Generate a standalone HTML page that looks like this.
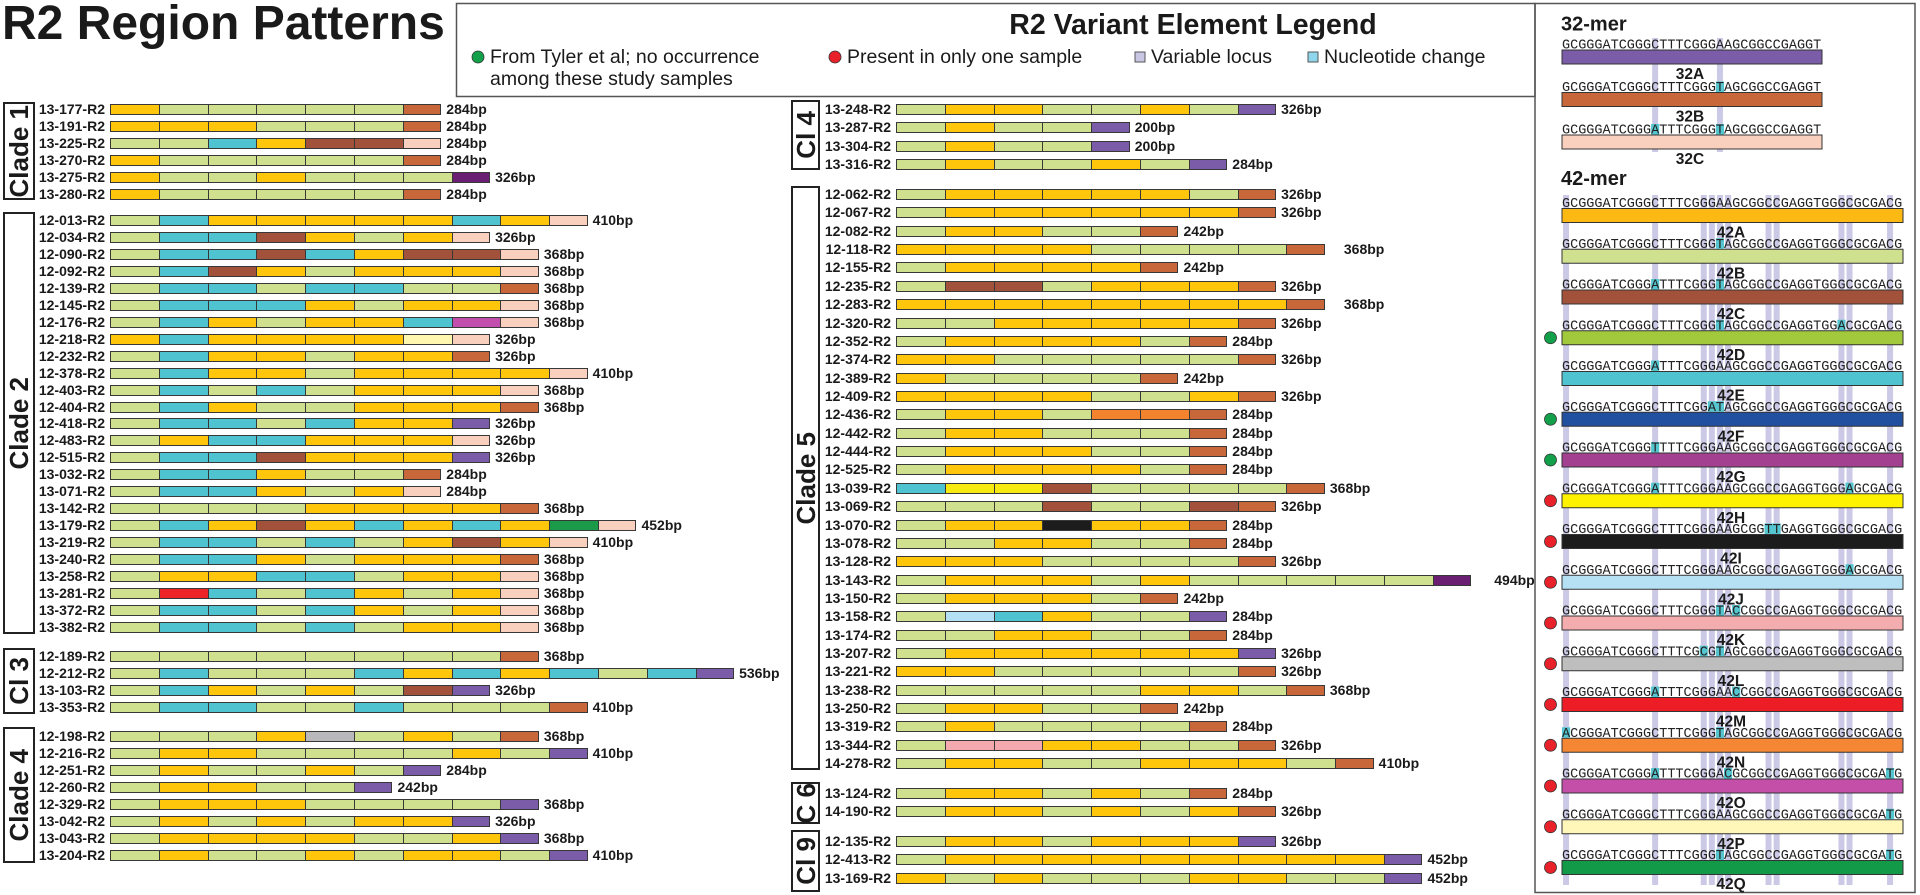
<!DOCTYPE html>
<html><head><meta charset="utf-8"><title>R2 Region Patterns</title>
<style>
*{margin:0;padding:0}
body{width:1920px;height:895px;position:relative;overflow:hidden;background:#fff;font-family:"Liberation Sans",Arial,sans-serif;color:#1a1a1a}
svg.bg{position:absolute;left:0;top:0}
.r{position:absolute;display:flex;align-items:center;height:11px}
.r b{position:absolute;right:100%;top:0;padding-right:5px;font-size:14px;line-height:11px;white-space:nowrap}
.r i{display:block;flex:none;width:49.8px;height:11px;box-sizing:border-box;border:1px solid #383838;margin-left:-1px}
.r b+i{margin-left:0}
.r i.e{width:38.5px}
.r s{text-decoration:none;font-weight:bold;font-size:14px;line-height:11px;margin-left:5px;white-space:nowrap}
.r s.f{margin-left:19px}
.r s.g{margin-left:23px}
.cb{position:absolute;box-sizing:border-box;border:2px solid #222;background:#fff;display:flex;align-items:center;justify-content:center}
.cb span{writing-mode:vertical-rl;transform:rotate(180deg);font-weight:bold;font-size:26px;line-height:1;white-space:nowrap}
.Y{background:#FFC60C}.G{background:#CFE08E}.C{background:#4FC3D0}.B{background:#A2513A}.O{background:#C8683A}.P{background:#F9CFBE}.V{background:#6A1F72}.L{background:#7B5CA9}.M{background:#C24FAE}.W{background:#FFF6B0}.D{background:#1B9A49}.R{background:#EC2327}.S{background:#B9B9BB}.K{background:#1C1C1C}.X{background:#B3E0F4}.Q{background:#F3A9AE}.N{background:#F4832D}.U{background:#F7EA10}
.sq{font-family:"Liberation Mono",monospace;font-size:13.5px;fill:#222}
.lb{font-family:"Liberation Sans",Arial,sans-serif;font-weight:bold;font-size:15.5px;text-anchor:middle;fill:#1a1a1a}
.st{fill:#CBC9E6}
.hl{fill:#55C6D0}
</style></head><body>

<svg class="bg" width="1920" height="895" viewBox="0 0 1920 895">
<text x="2" y="39" font-family="Liberation Sans, Arial, sans-serif" font-weight="bold" font-size="48" fill="#1a1a1a">R2 Region Patterns</text>
<rect x="456.5" y="3.5" width="1078.5" height="93" fill="none" stroke="#555" stroke-width="1.5"/>
<rect x="1535" y="3.5" width="380" height="889" fill="none" stroke="#555" stroke-width="1.5"/>
<g font-family="Liberation Sans, Arial, sans-serif" fill="#1a1a1a">
<text x="1193" y="34" text-anchor="middle" font-size="28.5" font-weight="bold">R2 Variant Element Legend</text>
<circle cx="478" cy="57" r="6" fill="#13A04B" stroke="#333" stroke-width=".8"/>
<text x="490" y="63" font-size="19.5">From Tyler et al; no occurrence</text>
<text x="490" y="85" font-size="19.5">among these study samples</text>
<circle cx="835" cy="57" r="6" fill="#E8212A" stroke="#333" stroke-width=".8"/>
<text x="847" y="63" font-size="19.5">Present in only one sample</text>
<rect x="1135" y="52" width="10" height="10" fill="#C9C6E3" stroke="#555"/>
<text x="1151" y="63" font-size="19.5">Variable locus</text>
<rect x="1308" y="52" width="10" height="10" fill="#8FD6EC" stroke="#555"/>
<text x="1324" y="63" font-size="19.5">Nucleotide change</text>
<text x="1561" y="30.5" font-size="20" font-weight="bold">32-mer</text>
<text x="1561" y="185" font-size="20" font-weight="bold">42-mer</text>
</g>

<rect class="st" x="1652.15" y="38" width="6" height="114"/>
<rect class="st" x="1716.95" y="38" width="6" height="114"/>
<rect class="st" x="1563.05" y="195" width="6" height="690"/>
<rect class="st" x="1652.15" y="195" width="6" height="690"/>
<rect class="st" x="1700.75" y="195" width="6" height="690"/>
<rect class="st" x="1708.85" y="195" width="6" height="690"/>
<rect class="st" x="1716.95" y="195" width="6" height="690"/>
<rect class="st" x="1725.05" y="195" width="6" height="690"/>
<rect class="st" x="1765.55" y="195" width="6" height="690"/>
<rect class="st" x="1773.65" y="195" width="6" height="690"/>
<rect class="st" x="1838.45" y="195" width="6" height="690"/>
<rect class="st" x="1846.55" y="195" width="6" height="690"/>
<rect class="st" x="1887.05" y="195" width="6" height="690"/>

<g stroke="#333" stroke-width="1">
<rect x="1562" y="50" width="260" height="14" fill="#7B5CA9"/>
<rect x="1562" y="92.5" width="260" height="14" fill="#C8683A"/>
<rect x="1562" y="135" width="260" height="14" fill="#F9CFBE"/>
</g>
<rect class="hl" x="1715.9" y="81.5" width="8.1" height="10.5"/>
<rect class="hl" x="1651.1" y="124" width="8.1" height="10.5"/>
<rect class="hl" x="1715.9" y="124" width="8.1" height="10.5"/>
<text class="sq" x="1562" y="48.5">GCGGGATCGGGCTTTCGGGAAGCGGCCGAGGT</text>
<text class="sq" x="1562" y="91">GCGGGATCGGGCTTTCGGGTAGCGGCCGAGGT</text>
<text class="sq" x="1562" y="133.5">GCGGGATCGGGATTTCGGGTAGCGGCCGAGGT</text>
<text class="lb" x="1690" y="79">32A</text>
<text class="lb" x="1690" y="121.5">32B</text>
<text class="lb" x="1690" y="164">32C</text>

<g stroke="#333" stroke-width="1">
<rect x="1562" y="208.5" width="341" height="14" fill="#FDB913"/>
<rect x="1562" y="249.25" width="341" height="14" fill="#CFE08E"/>
<rect x="1562" y="290" width="341" height="14" fill="#A2513A"/>
<rect x="1562" y="330.75" width="341" height="14" fill="#A2C83C"/>
<rect x="1562" y="371.5" width="341" height="14" fill="#4FC3D0"/>
<rect x="1562" y="412.25" width="341" height="14" fill="#2150A0"/>
<rect x="1562" y="453" width="341" height="14" fill="#A3408F"/>
<rect x="1562" y="493.75" width="341" height="14" fill="#FFF200"/>
<rect x="1562" y="534.5" width="341" height="14" fill="#1C1C1C"/>
<rect x="1562" y="575.25" width="341" height="14" fill="#B6E1F5"/>
<rect x="1562" y="616" width="341" height="14" fill="#F4ADAF"/>
<rect x="1562" y="656.75" width="341" height="14" fill="#BEBEBE"/>
<rect x="1562" y="697.5" width="341" height="14" fill="#EC1D25"/>
<rect x="1562" y="738.25" width="341" height="14" fill="#F58634"/>
<rect x="1562" y="779" width="341" height="14" fill="#C44FA8"/>
<rect x="1562" y="819.75" width="341" height="14" fill="#FFF6B9"/>
<rect x="1562" y="860.5" width="341" height="14" fill="#139A48"/>
</g>
<rect class="hl" x="1715.9" y="238.25" width="8.1" height="10.5"/>
<rect class="hl" x="1651.1" y="279" width="8.1" height="10.5"/>
<rect class="hl" x="1715.9" y="279" width="8.1" height="10.5"/>
<rect class="hl" x="1715.9" y="319.75" width="8.1" height="10.5"/>
<rect class="hl" x="1837.4" y="319.75" width="8.1" height="10.5"/>
<rect class="hl" x="1651.1" y="360.5" width="8.1" height="10.5"/>
<rect class="hl" x="1707.8" y="401.25" width="16.2" height="10.5"/>
<rect class="hl" x="1651.1" y="442" width="8.1" height="10.5"/>
<rect class="hl" x="1651.1" y="482.75" width="8.1" height="10.5"/>
<rect class="hl" x="1845.5" y="482.75" width="8.1" height="10.5"/>
<rect class="hl" x="1764.5" y="523.5" width="16.2" height="10.5"/>
<rect class="hl" x="1845.5" y="564.25" width="8.1" height="10.5"/>
<rect class="hl" x="1715.9" y="605" width="8.1" height="10.5"/>
<rect class="hl" x="1732.1" y="605" width="8.1" height="10.5"/>
<rect class="hl" x="1699.7" y="645.75" width="8.1" height="10.5"/>
<rect class="hl" x="1715.9" y="645.75" width="8.1" height="10.5"/>
<rect class="hl" x="1651.1" y="686.5" width="8.1" height="10.5"/>
<rect class="hl" x="1732.1" y="686.5" width="8.1" height="10.5"/>
<rect class="hl" x="1562" y="727.25" width="8.1" height="10.5"/>
<rect class="hl" x="1715.9" y="727.25" width="8.1" height="10.5"/>
<rect class="hl" x="1651.1" y="768" width="8.1" height="10.5"/>
<rect class="hl" x="1724" y="768" width="8.1" height="10.5"/>
<rect class="hl" x="1886" y="768" width="8.1" height="10.5"/>
<rect class="hl" x="1886" y="808.75" width="8.1" height="10.5"/>
<rect class="hl" x="1715.9" y="849.5" width="8.1" height="10.5"/>
<rect class="hl" x="1886" y="849.5" width="8.1" height="10.5"/>
<text class="sq" x="1562" y="207">GCGGGATCGGGCTTTCGGGAAGCGGCCGAGGTGGGCGCGACG</text>
<text class="sq" x="1562" y="247.75">GCGGGATCGGGCTTTCGGGTAGCGGCCGAGGTGGGCGCGACG</text>
<text class="sq" x="1562" y="288.5">GCGGGATCGGGATTTCGGGTAGCGGCCGAGGTGGGCGCGACG</text>
<text class="sq" x="1562" y="329.25">GCGGGATCGGGCTTTCGGGTAGCGGCCGAGGTGGACGCGACG</text>
<text class="sq" x="1562" y="370">GCGGGATCGGGATTTCGGGAAGCGGCCGAGGTGGGCGCGACG</text>
<text class="sq" x="1562" y="410.75">GCGGGATCGGGCTTTCGGATAGCGGCCGAGGTGGGCGCGACG</text>
<text class="sq" x="1562" y="451.5">GCGGGATCGGGTTTTCGGGAAGCGGCCGAGGTGGGCGCGACG</text>
<text class="sq" x="1562" y="492.25">GCGGGATCGGGATTTCGGGAAGCGGCCGAGGTGGGAGCGACG</text>
<text class="sq" x="1562" y="533">GCGGGATCGGGCTTTCGGGAAGCGGTTGAGGTGGGCGCGACG</text>
<text class="sq" x="1562" y="573.75">GCGGGATCGGGCTTTCGGGAAGCGGCCGAGGTGGGAGCGACG</text>
<text class="sq" x="1562" y="614.5">GCGGGATCGGGCTTTCGGGTACCGGCCGAGGTGGGCGCGACG</text>
<text class="sq" x="1562" y="655.25">GCGGGATCGGGCTTTCGCGTAGCGGCCGAGGTGGGCGCGACG</text>
<text class="sq" x="1562" y="696">GCGGGATCGGGATTTCGGGAACCGGCCGAGGTGGGCGCGACG</text>
<text class="sq" x="1562" y="736.75">ACGGGATCGGGCTTTCGGGTAGCGGCCGAGGTGGGCGCGACG</text>
<text class="sq" x="1562" y="777.5">GCGGGATCGGGATTTCGGGACGCGGCCGAGGTGGGCGCGATG</text>
<text class="sq" x="1562" y="818.25">GCGGGATCGGGCTTTCGGGAAGCGGCCGAGGTGGGCGCGATG</text>
<text class="sq" x="1562" y="859">GCGGGATCGGGCTTTCGGGTAGCGGCCGAGGTGGGCGCGATG</text>
<text class="lb" x="1731" y="237.5">42A</text>
<text class="lb" x="1731" y="278.25">42B</text>
<text class="lb" x="1731" y="319">42C</text>
<text class="lb" x="1731" y="359.75">42D</text>
<text class="lb" x="1731" y="400.5">42E</text>
<text class="lb" x="1731" y="441.25">42F</text>
<text class="lb" x="1731" y="482">42G</text>
<text class="lb" x="1731" y="522.75">42H</text>
<text class="lb" x="1731" y="563.5">42I</text>
<text class="lb" x="1731" y="604.25">42J</text>
<text class="lb" x="1731" y="645">42K</text>
<text class="lb" x="1731" y="685.75">42L</text>
<text class="lb" x="1731" y="726.5">42M</text>
<text class="lb" x="1731" y="767.25">42N</text>
<text class="lb" x="1731" y="808">42O</text>
<text class="lb" x="1731" y="848.75">42P</text>
<text class="lb" x="1731" y="889">42Q</text>
<g stroke="#333" stroke-width=".8">
<circle cx="1550.5" cy="337.75" r="6" fill="#13A04B"/>
<circle cx="1550.5" cy="419.25" r="6" fill="#13A04B"/>
<circle cx="1550.5" cy="460" r="6" fill="#13A04B"/>
<circle cx="1550.5" cy="500.75" r="6" fill="#E8212A"/>
<circle cx="1550.5" cy="541.5" r="6" fill="#E8212A"/>
<circle cx="1550.5" cy="582.25" r="6" fill="#E8212A"/>
<circle cx="1550.5" cy="623" r="6" fill="#E8212A"/>
<circle cx="1550.5" cy="663.75" r="6" fill="#E8212A"/>
<circle cx="1550.5" cy="704.5" r="6" fill="#E8212A"/>
<circle cx="1550.5" cy="745.25" r="6" fill="#E8212A"/>
<circle cx="1550.5" cy="786" r="6" fill="#E8212A"/>
<circle cx="1550.5" cy="826.75" r="6" fill="#E8212A"/>
<circle cx="1550.5" cy="867.5" r="6" fill="#E8212A"/>
</g>
</svg>

<div class="cb" style="left:3px;top:102px;width:32px;height:98px"><span>Clade 1</span></div>
<div class="cb" style="left:3px;top:212px;width:32px;height:422px"><span>Clade 2</span></div>
<div class="cb" style="left:3px;top:648px;width:32px;height:66px"><span>Cl 3</span></div>
<div class="cb" style="left:3px;top:727px;width:32px;height:136px"><span>Clade 4</span></div>
<div class="cb" style="left:791px;top:100px;width:29px;height:70px"><span>Cl 4</span></div>
<div class="cb" style="left:791px;top:186px;width:29px;height:584px"><span>Clade 5</span></div>
<div class="cb" style="left:791px;top:782px;width:29px;height:42px"><span>C 6</span></div>
<div class="cb" style="left:791px;top:830px;width:29px;height:62px"><span>Cl 9</span></div>

<div class="r" style="left:110px;top:104px"><b>13-177-R2</b><i class="Y"></i><i class="G"></i><i class="G"></i><i class="G"></i><i class="G"></i><i class="G"></i><i class="e O"></i><s>284bp</s></div>
<div class="r" style="left:110px;top:121px"><b>13-191-R2</b><i class="Y"></i><i class="Y"></i><i class="Y"></i><i class="G"></i><i class="G"></i><i class="G"></i><i class="e O"></i><s>284bp</s></div>
<div class="r" style="left:110px;top:138px"><b>13-225-R2</b><i class="G"></i><i class="G"></i><i class="C"></i><i class="Y"></i><i class="B"></i><i class="B"></i><i class="e P"></i><s>284bp</s></div>
<div class="r" style="left:110px;top:155px"><b>13-270-R2</b><i class="Y"></i><i class="G"></i><i class="G"></i><i class="G"></i><i class="G"></i><i class="G"></i><i class="e O"></i><s>284bp</s></div>
<div class="r" style="left:110px;top:171.5px"><b>13-275-R2</b><i class="Y"></i><i class="G"></i><i class="G"></i><i class="Y"></i><i class="G"></i><i class="G"></i><i class="G"></i><i class="e V"></i><s>326bp</s></div>
<div class="r" style="left:110px;top:188.5px"><b>13-280-R2</b><i class="Y"></i><i class="G"></i><i class="G"></i><i class="G"></i><i class="G"></i><i class="G"></i><i class="e O"></i><s>284bp</s></div>

<div class="r" style="left:110px;top:215px"><b>12-013-R2</b><i class="G"></i><i class="C"></i><i class="Y"></i><i class="Y"></i><i class="Y"></i><i class="Y"></i><i class="Y"></i><i class="C"></i><i class="Y"></i><i class="e P"></i><s>410bp</s></div>
<div class="r" style="left:110px;top:232px"><b>12-034-R2</b><i class="G"></i><i class="C"></i><i class="C"></i><i class="B"></i><i class="Y"></i><i class="G"></i><i class="Y"></i><i class="e P"></i><s>326bp</s></div>
<div class="r" style="left:110px;top:248.9px"><b>12-090-R2</b><i class="G"></i><i class="C"></i><i class="C"></i><i class="B"></i><i class="C"></i><i class="Y"></i><i class="B"></i><i class="B"></i><i class="e P"></i><s>368bp</s></div>
<div class="r" style="left:110px;top:265.9px"><b>12-092-R2</b><i class="G"></i><i class="C"></i><i class="B"></i><i class="Y"></i><i class="G"></i><i class="Y"></i><i class="Y"></i><i class="Y"></i><i class="e P"></i><s>368bp</s></div>
<div class="r" style="left:110px;top:282.8px"><b>12-139-R2</b><i class="G"></i><i class="C"></i><i class="C"></i><i class="G"></i><i class="C"></i><i class="C"></i><i class="G"></i><i class="G"></i><i class="e O"></i><s>368bp</s></div>
<div class="r" style="left:110px;top:299.8px"><b>12-145-R2</b><i class="G"></i><i class="C"></i><i class="C"></i><i class="C"></i><i class="Y"></i><i class="G"></i><i class="Y"></i><i class="Y"></i><i class="e P"></i><s>368bp</s></div>
<div class="r" style="left:110px;top:316.7px"><b>12-176-R2</b><i class="G"></i><i class="C"></i><i class="Y"></i><i class="G"></i><i class="Y"></i><i class="Y"></i><i class="C"></i><i class="M"></i><i class="e P"></i><s>368bp</s></div>
<div class="r" style="left:110px;top:333.7px"><b>12-218-R2</b><i class="Y"></i><i class="C"></i><i class="Y"></i><i class="Y"></i><i class="Y"></i><i class="Y"></i><i class="W"></i><i class="e P"></i><s>326bp</s></div>
<div class="r" style="left:110px;top:350.6px"><b>12-232-R2</b><i class="G"></i><i class="C"></i><i class="Y"></i><i class="Y"></i><i class="G"></i><i class="Y"></i><i class="Y"></i><i class="e O"></i><s>326bp</s></div>
<div class="r" style="left:110px;top:367.6px"><b>12-378-R2</b><i class="G"></i><i class="C"></i><i class="Y"></i><i class="Y"></i><i class="G"></i><i class="Y"></i><i class="Y"></i><i class="Y"></i><i class="Y"></i><i class="e P"></i><s>410bp</s></div>
<div class="r" style="left:110px;top:384.5px"><b>12-403-R2</b><i class="G"></i><i class="C"></i><i class="G"></i><i class="C"></i><i class="G"></i><i class="Y"></i><i class="Y"></i><i class="Y"></i><i class="e P"></i><s>368bp</s></div>
<div class="r" style="left:110px;top:401.5px"><b>12-404-R2</b><i class="G"></i><i class="C"></i><i class="Y"></i><i class="G"></i><i class="G"></i><i class="Y"></i><i class="Y"></i><i class="Y"></i><i class="e O"></i><s>368bp</s></div>
<div class="r" style="left:110px;top:418.4px"><b>12-418-R2</b><i class="G"></i><i class="C"></i><i class="C"></i><i class="G"></i><i class="C"></i><i class="Y"></i><i class="Y"></i><i class="e L"></i><s>326bp</s></div>
<div class="r" style="left:110px;top:435.4px"><b>12-483-R2</b><i class="G"></i><i class="Y"></i><i class="C"></i><i class="C"></i><i class="Y"></i><i class="Y"></i><i class="Y"></i><i class="e P"></i><s>326bp</s></div>
<div class="r" style="left:110px;top:452.3px"><b>12-515-R2</b><i class="G"></i><i class="C"></i><i class="C"></i><i class="B"></i><i class="Y"></i><i class="Y"></i><i class="Y"></i><i class="e L"></i><s>326bp</s></div>
<div class="r" style="left:110px;top:469.3px"><b>13-032-R2</b><i class="G"></i><i class="C"></i><i class="C"></i><i class="Y"></i><i class="G"></i><i class="G"></i><i class="e O"></i><s>284bp</s></div>
<div class="r" style="left:110px;top:486.2px"><b>13-071-R2</b><i class="G"></i><i class="C"></i><i class="C"></i><i class="Y"></i><i class="G"></i><i class="Y"></i><i class="e P"></i><s>284bp</s></div>
<div class="r" style="left:110px;top:503.2px"><b>13-142-R2</b><i class="G"></i><i class="G"></i><i class="G"></i><i class="G"></i><i class="Y"></i><i class="Y"></i><i class="Y"></i><i class="Y"></i><i class="e O"></i><s>368bp</s></div>
<div class="r" style="left:110px;top:520.1px"><b>13-179-R2</b><i class="G"></i><i class="C"></i><i class="Y"></i><i class="B"></i><i class="Y"></i><i class="C"></i><i class="Y"></i><i class="C"></i><i class="Y"></i><i class="D"></i><i class="e P"></i><s>452bp</s></div>
<div class="r" style="left:110px;top:537.1px"><b>13-219-R2</b><i class="G"></i><i class="C"></i><i class="C"></i><i class="G"></i><i class="C"></i><i class="G"></i><i class="Y"></i><i class="B"></i><i class="Y"></i><i class="e P"></i><s>410bp</s></div>
<div class="r" style="left:110px;top:554px"><b>13-240-R2</b><i class="G"></i><i class="C"></i><i class="C"></i><i class="Y"></i><i class="G"></i><i class="Y"></i><i class="Y"></i><i class="Y"></i><i class="e O"></i><s>368bp</s></div>
<div class="r" style="left:110px;top:571px"><b>13-258-R2</b><i class="G"></i><i class="Y"></i><i class="Y"></i><i class="C"></i><i class="C"></i><i class="G"></i><i class="Y"></i><i class="Y"></i><i class="e P"></i><s>368bp</s></div>
<div class="r" style="left:110px;top:587.9px"><b>13-281-R2</b><i class="G"></i><i class="R"></i><i class="C"></i><i class="G"></i><i class="C"></i><i class="Y"></i><i class="G"></i><i class="Y"></i><i class="e P"></i><s>368bp</s></div>
<div class="r" style="left:110px;top:604.9px"><b>13-372-R2</b><i class="G"></i><i class="C"></i><i class="C"></i><i class="G"></i><i class="C"></i><i class="Y"></i><i class="G"></i><i class="Y"></i><i class="e P"></i><s>368bp</s></div>
<div class="r" style="left:110px;top:621.8px"><b>13-382-R2</b><i class="G"></i><i class="C"></i><i class="C"></i><i class="G"></i><i class="C"></i><i class="G"></i><i class="Y"></i><i class="Y"></i><i class="e P"></i><s>368bp</s></div>

<div class="r" style="left:110px;top:651px"><b>12-189-R2</b><i class="G"></i><i class="G"></i><i class="G"></i><i class="G"></i><i class="G"></i><i class="G"></i><i class="G"></i><i class="G"></i><i class="e O"></i><s>368bp</s></div>
<div class="r" style="left:110px;top:668px"><b>12-212-R2</b><i class="G"></i><i class="C"></i><i class="G"></i><i class="G"></i><i class="G"></i><i class="C"></i><i class="Y"></i><i class="C"></i><i class="Y"></i><i class="C"></i><i class="G"></i><i class="C"></i><i class="e L"></i><s>536bp</s></div>
<div class="r" style="left:110px;top:685px"><b>13-103-R2</b><i class="G"></i><i class="C"></i><i class="Y"></i><i class="G"></i><i class="Y"></i><i class="G"></i><i class="B"></i><i class="e L"></i><s>326bp</s></div>
<div class="r" style="left:110px;top:702px"><b>13-353-R2</b><i class="G"></i><i class="C"></i><i class="C"></i><i class="G"></i><i class="G"></i><i class="C"></i><i class="G"></i><i class="G"></i><i class="G"></i><i class="e O"></i><s>410bp</s></div>

<div class="r" style="left:110px;top:730.5px"><b>12-198-R2</b><i class="G"></i><i class="G"></i><i class="G"></i><i class="Y"></i><i class="S"></i><i class="G"></i><i class="Y"></i><i class="G"></i><i class="e O"></i><s>368bp</s></div>
<div class="r" style="left:110px;top:747.5px"><b>12-216-R2</b><i class="G"></i><i class="Y"></i><i class="Y"></i><i class="G"></i><i class="G"></i><i class="G"></i><i class="G"></i><i class="Y"></i><i class="G"></i><i class="e L"></i><s>410bp</s></div>
<div class="r" style="left:110px;top:764.6px"><b>12-251-R2</b><i class="G"></i><i class="Y"></i><i class="G"></i><i class="G"></i><i class="Y"></i><i class="G"></i><i class="e L"></i><s>284bp</s></div>
<div class="r" style="left:110px;top:781.6px"><b>12-260-R2</b><i class="G"></i><i class="Y"></i><i class="Y"></i><i class="G"></i><i class="G"></i><i class="e L"></i><s>242bp</s></div>
<div class="r" style="left:110px;top:798.7px"><b>12-329-R2</b><i class="G"></i><i class="Y"></i><i class="Y"></i><i class="Y"></i><i class="G"></i><i class="G"></i><i class="G"></i><i class="G"></i><i class="e L"></i><s>368bp</s></div>
<div class="r" style="left:110px;top:815.7px"><b>13-042-R2</b><i class="G"></i><i class="Y"></i><i class="G"></i><i class="Y"></i><i class="G"></i><i class="Y"></i><i class="Y"></i><i class="e L"></i><s>326bp</s></div>
<div class="r" style="left:110px;top:832.8px"><b>13-043-R2</b><i class="G"></i><i class="Y"></i><i class="Y"></i><i class="Y"></i><i class="Y"></i><i class="G"></i><i class="G"></i><i class="Y"></i><i class="e L"></i><s>368bp</s></div>
<div class="r" style="left:110px;top:849.8px"><b>13-204-R2</b><i class="G"></i><i class="Y"></i><i class="G"></i><i class="G"></i><i class="Y"></i><i class="G"></i><i class="Y"></i><i class="Y"></i><i class="G"></i><i class="e L"></i><s>410bp</s></div>

<div class="r" style="left:896px;top:104px"><b>13-248-R2</b><i class="G"></i><i class="Y"></i><i class="Y"></i><i class="G"></i><i class="G"></i><i class="Y"></i><i class="G"></i><i class="e L"></i><s>326bp</s></div>
<div class="r" style="left:896px;top:122.3px"><b>13-287-R2</b><i class="G"></i><i class="Y"></i><i class="G"></i><i class="G"></i><i class="e L"></i><s>200bp</s></div>
<div class="r" style="left:896px;top:140.7px"><b>13-304-R2</b><i class="G"></i><i class="Y"></i><i class="G"></i><i class="G"></i><i class="e L"></i><s>200bp</s></div>
<div class="r" style="left:896px;top:159px"><b>13-316-R2</b><i class="G"></i><i class="Y"></i><i class="G"></i><i class="G"></i><i class="Y"></i><i class="G"></i><i class="e L"></i><s>284bp</s></div>

<div class="r" style="left:896px;top:189px"><b>12-062-R2</b><i class="G"></i><i class="Y"></i><i class="Y"></i><i class="Y"></i><i class="Y"></i><i class="Y"></i><i class="G"></i><i class="e O"></i><s>326bp</s></div>
<div class="r" style="left:896px;top:207.4px"><b>12-067-R2</b><i class="G"></i><i class="Y"></i><i class="Y"></i><i class="Y"></i><i class="Y"></i><i class="Y"></i><i class="Y"></i><i class="e O"></i><s>326bp</s></div>
<div class="r" style="left:896px;top:225.7px"><b>12-082-R2</b><i class="G"></i><i class="Y"></i><i class="Y"></i><i class="G"></i><i class="G"></i><i class="e O"></i><s>242bp</s></div>
<div class="r" style="left:896px;top:244.1px"><b>12-118-R2</b><i class="Y"></i><i class="Y"></i><i class="Y"></i><i class="Y"></i><i class="G"></i><i class="G"></i><i class="G"></i><i class="G"></i><i class="e O"></i><s class="f">368bp</s></div>
<div class="r" style="left:896px;top:262.4px"><b>12-155-R2</b><i class="G"></i><i class="Y"></i><i class="Y"></i><i class="Y"></i><i class="Y"></i><i class="e O"></i><s>242bp</s></div>
<div class="r" style="left:896px;top:280.8px"><b>12-235-R2</b><i class="G"></i><i class="B"></i><i class="B"></i><i class="G"></i><i class="Y"></i><i class="Y"></i><i class="Y"></i><i class="e O"></i><s>326bp</s></div>
<div class="r" style="left:896px;top:299.2px"><b>12-283-R2</b><i class="Y"></i><i class="Y"></i><i class="Y"></i><i class="Y"></i><i class="Y"></i><i class="Y"></i><i class="Y"></i><i class="Y"></i><i class="e O"></i><s class="f">368bp</s></div>
<div class="r" style="left:896px;top:317.5px"><b>12-320-R2</b><i class="G"></i><i class="G"></i><i class="Y"></i><i class="Y"></i><i class="Y"></i><i class="Y"></i><i class="Y"></i><i class="e O"></i><s>326bp</s></div>
<div class="r" style="left:896px;top:335.9px"><b>12-352-R2</b><i class="G"></i><i class="Y"></i><i class="Y"></i><i class="Y"></i><i class="Y"></i><i class="G"></i><i class="e O"></i><s>284bp</s></div>
<div class="r" style="left:896px;top:354.2px"><b>12-374-R2</b><i class="Y"></i><i class="Y"></i><i class="G"></i><i class="G"></i><i class="G"></i><i class="G"></i><i class="G"></i><i class="e O"></i><s>326bp</s></div>
<div class="r" style="left:896px;top:372.6px"><b>12-389-R2</b><i class="Y"></i><i class="G"></i><i class="G"></i><i class="G"></i><i class="G"></i><i class="e O"></i><s>242bp</s></div>
<div class="r" style="left:896px;top:391px"><b>12-409-R2</b><i class="Y"></i><i class="Y"></i><i class="Y"></i><i class="Y"></i><i class="G"></i><i class="G"></i><i class="Y"></i><i class="e O"></i><s>326bp</s></div>
<div class="r" style="left:896px;top:409.3px"><b>12-436-R2</b><i class="G"></i><i class="Y"></i><i class="Y"></i><i class="G"></i><i class="N"></i><i class="N"></i><i class="e O"></i><s>284bp</s></div>
<div class="r" style="left:896px;top:427.7px"><b>12-442-R2</b><i class="G"></i><i class="Y"></i><i class="Y"></i><i class="G"></i><i class="G"></i><i class="G"></i><i class="e O"></i><s>284bp</s></div>
<div class="r" style="left:896px;top:446px"><b>12-444-R2</b><i class="G"></i><i class="Y"></i><i class="Y"></i><i class="Y"></i><i class="G"></i><i class="G"></i><i class="e O"></i><s>284bp</s></div>
<div class="r" style="left:896px;top:464.4px"><b>12-525-R2</b><i class="G"></i><i class="Y"></i><i class="Y"></i><i class="Y"></i><i class="Y"></i><i class="G"></i><i class="e O"></i><s>284bp</s></div>
<div class="r" style="left:896px;top:482.8px"><b>13-039-R2</b><i class="C"></i><i class="U"></i><i class="U"></i><i class="B"></i><i class="G"></i><i class="G"></i><i class="G"></i><i class="G"></i><i class="e O"></i><s>368bp</s></div>
<div class="r" style="left:896px;top:501.1px"><b>13-069-R2</b><i class="G"></i><i class="G"></i><i class="G"></i><i class="B"></i><i class="G"></i><i class="G"></i><i class="B"></i><i class="e O"></i><s>326bp</s></div>
<div class="r" style="left:896px;top:519.5px"><b>13-070-R2</b><i class="G"></i><i class="Y"></i><i class="Y"></i><i class="K"></i><i class="Y"></i><i class="Y"></i><i class="e O"></i><s>284bp</s></div>
<div class="r" style="left:896px;top:537.8px"><b>13-078-R2</b><i class="G"></i><i class="G"></i><i class="Y"></i><i class="Y"></i><i class="G"></i><i class="G"></i><i class="e O"></i><s>284bp</s></div>
<div class="r" style="left:896px;top:556.2px"><b>13-128-R2</b><i class="Y"></i><i class="Y"></i><i class="Y"></i><i class="G"></i><i class="G"></i><i class="G"></i><i class="G"></i><i class="e O"></i><s>326bp</s></div>
<div class="r" style="left:896px;top:574.6px"><b>13-143-R2</b><i class="G"></i><i class="Y"></i><i class="Y"></i><i class="Y"></i><i class="G"></i><i class="Y"></i><i class="G"></i><i class="G"></i><i class="G"></i><i class="G"></i><i class="G"></i><i class="e V"></i><s class="g">494bp</s></div>
<div class="r" style="left:896px;top:592.9px"><b>13-150-R2</b><i class="G"></i><i class="Y"></i><i class="Y"></i><i class="Y"></i><i class="G"></i><i class="e O"></i><s>242bp</s></div>
<div class="r" style="left:896px;top:611.3px"><b>13-158-R2</b><i class="G"></i><i class="X"></i><i class="C"></i><i class="Y"></i><i class="G"></i><i class="G"></i><i class="e L"></i><s>284bp</s></div>
<div class="r" style="left:896px;top:629.6px"><b>13-174-R2</b><i class="G"></i><i class="G"></i><i class="Y"></i><i class="Y"></i><i class="G"></i><i class="G"></i><i class="e O"></i><s>284bp</s></div>
<div class="r" style="left:896px;top:648px"><b>13-207-R2</b><i class="G"></i><i class="Y"></i><i class="Y"></i><i class="Y"></i><i class="Y"></i><i class="Y"></i><i class="Y"></i><i class="e L"></i><s>326bp</s></div>
<div class="r" style="left:896px;top:666.4px"><b>13-221-R2</b><i class="Y"></i><i class="Y"></i><i class="G"></i><i class="G"></i><i class="G"></i><i class="G"></i><i class="G"></i><i class="e O"></i><s>326bp</s></div>
<div class="r" style="left:896px;top:684.7px"><b>13-238-R2</b><i class="G"></i><i class="G"></i><i class="G"></i><i class="G"></i><i class="G"></i><i class="Y"></i><i class="Y"></i><i class="G"></i><i class="e O"></i><s>368bp</s></div>
<div class="r" style="left:896px;top:703.1px"><b>13-250-R2</b><i class="G"></i><i class="Y"></i><i class="Y"></i><i class="G"></i><i class="G"></i><i class="e O"></i><s>242bp</s></div>
<div class="r" style="left:896px;top:721.4px"><b>13-319-R2</b><i class="G"></i><i class="Y"></i><i class="G"></i><i class="G"></i><i class="G"></i><i class="G"></i><i class="e O"></i><s>284bp</s></div>
<div class="r" style="left:896px;top:739.8px"><b>13-344-R2</b><i class="G"></i><i class="Q"></i><i class="Q"></i><i class="Y"></i><i class="Y"></i><i class="G"></i><i class="G"></i><i class="e O"></i><s>326bp</s></div>
<div class="r" style="left:896px;top:758.2px"><b>14-278-R2</b><i class="G"></i><i class="Y"></i><i class="Y"></i><i class="G"></i><i class="G"></i><i class="Y"></i><i class="Y"></i><i class="Y"></i><i class="G"></i><i class="e O"></i><s>410bp</s></div>

<div class="r" style="left:896px;top:787.7px"><b>13-124-R2</b><i class="G"></i><i class="Y"></i><i class="Y"></i><i class="G"></i><i class="Y"></i><i class="G"></i><i class="e O"></i><s>284bp</s></div>
<div class="r" style="left:896px;top:806px"><b>14-190-R2</b><i class="G"></i><i class="Y"></i><i class="Y"></i><i class="G"></i><i class="Y"></i><i class="G"></i><i class="Y"></i><i class="e O"></i><s>326bp</s></div>

<div class="r" style="left:896px;top:836px"><b>12-135-R2</b><i class="G"></i><i class="Y"></i><i class="Y"></i><i class="G"></i><i class="Y"></i><i class="Y"></i><i class="Y"></i><i class="e L"></i><s>326bp</s></div>
<div class="r" style="left:896px;top:854.3px"><b>12-413-R2</b><i class="G"></i><i class="Y"></i><i class="Y"></i><i class="Y"></i><i class="Y"></i><i class="Y"></i><i class="Y"></i><i class="Y"></i><i class="Y"></i><i class="Y"></i><i class="e L"></i><s>452bp</s></div>
<div class="r" style="left:896px;top:872.7px"><b>13-169-R2</b><i class="Y"></i><i class="G"></i><i class="Y"></i><i class="G"></i><i class="G"></i><i class="G"></i><i class="Y"></i><i class="Y"></i><i class="G"></i><i class="G"></i><i class="e L"></i><s>452bp</s></div>

</body></html>
